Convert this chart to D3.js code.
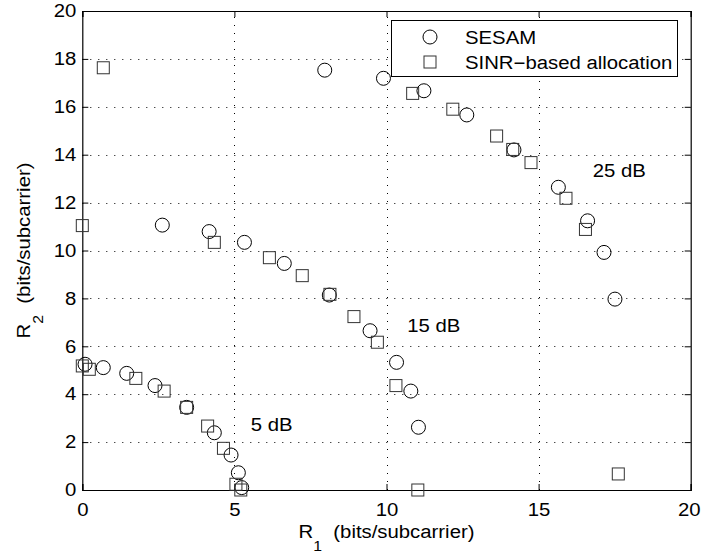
<!DOCTYPE html>
<html>
<head>
<meta charset="utf-8">
<script src="https://cdn.jsdelivr.net/npm/d3@7"></script>
<style>
  body { margin: 0; background: #fff; }
  svg { display: block; font-family: "Liberation Sans", Arial, Helvetica, sans-serif; }
</style>
</head>
<body>
<svg id="chart" width="701" height="553"></svg>
<script>
// Points : [R1, R2] en bits/subcarrier
const sesam5 = [[0.09, 5.25], [0.69, 5.11], [1.46, 4.87], [2.39, 4.36], [3.43, 3.45], [4.34, 2.39], [4.89, 1.46], [5.13, 0.72], [5.24, 0.1]]
const sinr5 = [[0, 5.18], [0.23, 5.04], [1.76, 4.66], [2.69, 4.13], [3.43, 3.45], [4.12, 2.67], [4.64, 1.74], [5.05, 0.24], [5.21, 0]]

const sesam15 = [[2.63, 11.06], [4.17, 10.79], [5.33, 10.34], [6.64, 9.46], [8.12, 8.14], [9.46, 6.65], [10.33, 5.33], [10.8, 4.13], [11.05, 2.62]]
const sinr15 = [[0, 11.04], [4.34, 10.34], [6.15, 9.7], [7.23, 8.95], [8.14, 8.17], [8.93, 7.24], [9.7, 6.17], [10.31, 4.36], [11.03, 0]]

const sesam25 = [[7.97, 17.53], [9.9, 17.19], [11.23, 16.67], [12.64, 15.66], [14.19, 14.2], [15.65, 12.64], [16.61, 11.24], [17.15, 9.92], [17.51, 7.97]]
const sinr25 = [[0.69, 17.63], [10.86, 16.56], [12.18, 15.9], [13.62, 14.78], [14.15, 14.22], [14.75, 13.67], [15.9, 12.18], [16.54, 10.88], [17.62, 0.67]]

// Étiquettes SNR et leur ancrage (coin bas-gauche du texte, en unités de données)
const snrLabels = [
  { text: '5 dB', x: 5.54, y: 2.48 },
  { text: '15 dB', x: 10.68, y: 6.58 },
  { text: '25 dB', x: 16.78, y: 13.08 },
]

const xTicks = [0, 5, 10, 15, 20]
const yTicks = [0, 2, 4, 6, 8, 10, 12, 14, 16, 18, 20]

const legendItems = ['SESAM', 'SINR\u2212based allocation']

// --- mise en page ---
const margin = { left: 82.3, top: 11, right: 701 - 690.7, bottom: 553 - 490 }
const W = 701, H = 553
const FS = 18
const SX = 1.13 // la figure d'origine a un texte un peu étiré en largeur

const svg = d3.select('#chart')

const x = d3.scaleLinear().domain([0, 20]).range([margin.left, W - margin.right])
const y = d3.scaleLinear().domain([0, 20]).range([H - margin.bottom, margin.top])

// étire horizontalement un texte autour de son point d'ancrage
const stretch = (sel, pre = '') => sel.each(function () {
  const t = d3.select(this)
  const tx = +t.attr('x') || 0, ty = +t.attr('y') || 0
  t.attr('x', null).attr('y', null)
    .attr('transform', (pre || `translate(${tx},${ty})`) + ` scale(${SX},1)`)
})

// Grille pointillée
const grid = svg.append('g').attr('stroke', '#000').attr('stroke-width', 1).attr('stroke-dasharray', '1,7')
grid.selectAll('.gx').data(xTicks.slice(1, -1)).join('line')
  .attr('x1', d => Math.round(x(d)) + 0.5).attr('x2', d => Math.round(x(d)) + 0.5)
  .attr('y1', y(0)).attr('y2', y(20))
grid.selectAll('.gy').data(yTicks.slice(1, -1)).join('line')
  .attr('y1', d => Math.round(y(d)) + 0.5).attr('y2', d => Math.round(y(d)) + 0.5)
  .attr('x1', x(0)).attr('x2', x(20))

// Axes (ticks vers l'intérieur, style MATLAB)
const fmt = d3.format('d')
const axB = svg.append('g').attr('transform', `translate(0,${y(0)})`)
  .call(d3.axisBottom(x).tickValues(xTicks).tickFormat(fmt).tickSize(-6).tickPadding(13))
const axL = svg.append('g').attr('transform', `translate(${x(0)},0)`)
  .call(d3.axisLeft(y).tickValues(yTicks).tickFormat(fmt).tickSize(-6).tickPadding(6))
const axT = svg.append('g').attr('transform', `translate(0,${y(20)})`)
  .call(d3.axisTop(x).tickValues(xTicks).tickFormat('').tickSize(-6))
const axR = svg.append('g').attr('transform', `translate(${x(20)},0)`)
  .call(d3.axisRight(y).tickValues(yTicks).tickFormat('').tickSize(-6))

for (const ax of [axB, axL, axT, axR]) {
  ax.attr('font-family', null).attr('font-size', FS)
  ax.select('.domain').attr('stroke', '#000').attr('stroke-width', 1.2)
  ax.selectAll('.tick line').attr('stroke', '#000')
  ax.selectAll('.tick text').attr('fill', '#000')
}
// le dernier label touche le bord droit : on le décale un peu
axB.selectAll('.tick text').filter(d => d === 20).attr('x', -2)
stretch(axB.selectAll('.tick text'))
stretch(axL.selectAll('.tick text'))

// Marqueurs
const drawCircles = (data) => {
  svg.append('g').selectAll('circle').data(data).join('circle')
    .attr('cx', d => x(d[0])).attr('cy', d => y(d[1])).attr('r', 7)
    .attr('fill', 'none').attr('stroke', '#000').attr('stroke-width', 1)
}
const drawSquares = (data) => {
  svg.append('g').selectAll('rect').data(data).join('rect')
    .attr('x', d => x(d[0]) - 6).attr('y', d => y(d[1]) - 6)
    .attr('width', 12).attr('height', 12)
    .attr('fill', 'none').attr('stroke', '#333').attr('stroke-width', 1)
}
for (const s of [sesam5, sesam15, sesam25]) drawCircles(s)
for (const s of [sinr5, sinr15, sinr25]) drawSquares(s)

// Étiquettes SNR
svg.append('g').selectAll('text').data(snrLabels).join('text')
  .attr('x', d => x(d.x)).attr('y', d => y(d.y))
  .attr('font-size', FS).attr('fill', '#000')
  .text(d => d.text)
  .call(stretch)

// Titres des axes
const xl = svg.append('text')
  .attr('x', (x(0) + x(20)) / 2).attr('y', 538)
  .attr('text-anchor', 'middle').attr('font-size', FS)
xl.append('tspan').text('R')
xl.append('tspan').attr('font-size', 14).attr('dy', 13).text('1')
xl.append('tspan').attr('dy', -13).text('\u00a0 (bits/subcarrier)')
stretch(xl)

const yl = svg.append('text')
  .attr('text-anchor', 'middle').attr('font-size', FS)
yl.append('tspan').text('R')
yl.append('tspan').attr('font-size', 14).attr('dy', 13).text('2')
yl.append('tspan').attr('dy', -13).text('\u00a0 (bits/subcarrier)')
stretch(yl, `translate(30,${(y(0) + y(20)) / 2}) rotate(-90)`)

// Légende
const lg = svg.append('g')
lg.append('rect')
  .attr('x', 391.5).attr('y', 20.5).attr('width', 286).attr('height', 56)
  .attr('fill', '#fff').attr('stroke', '#000').attr('stroke-width', 1)
lg.append('circle').attr('cx', 430).attr('cy', 37).attr('r', 7)
  .attr('fill', 'none').attr('stroke', '#000')
lg.append('rect').attr('x', 424).attr('y', 56).attr('width', 12).attr('height', 12)
  .attr('fill', 'none').attr('stroke', '#333')
lg.selectAll('text').data(legendItems).join('text')
  .attr('x', 465).attr('y', (d, i) => 43.5 + i * 25)
  .attr('font-size', FS).attr('fill', '#000')
  .text(d => d)
  .call(stretch)
</script>
</body>
</html>
